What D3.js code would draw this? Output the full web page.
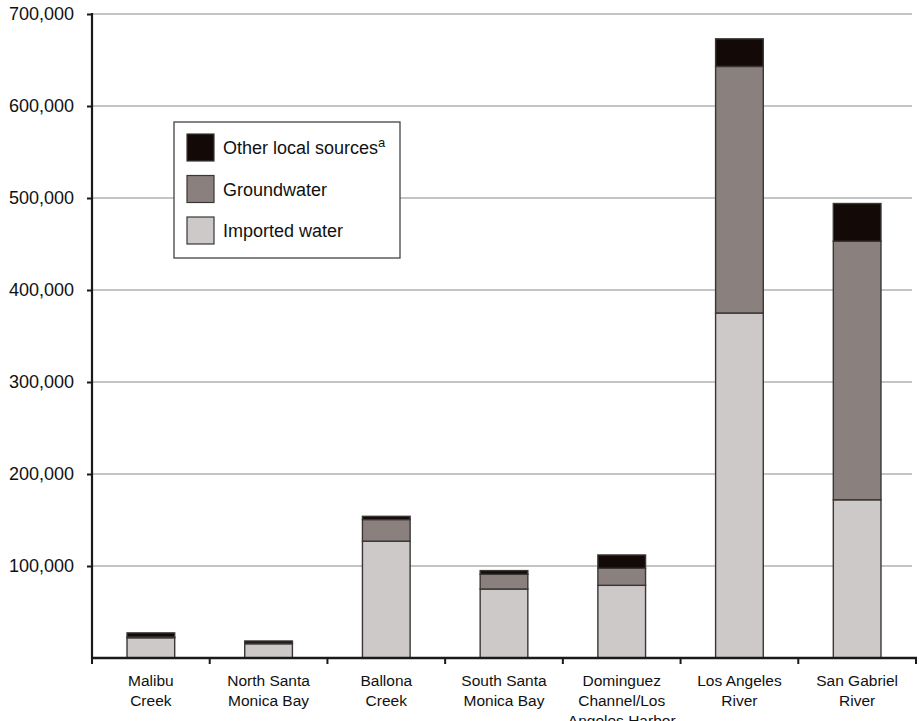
<!doctype html>
<html lang="en">
<head>
    <meta charset="utf-8">
    <title>Water sources by watershed</title>
<style>
body {
margin: 0;
font-family: "Liberation Sans", Arial, Helvetica, sans-serif;
background: #fff;
}
</style>
</head>

<body>
    <div id="chart"></div>
</body>

<script src="https://cdnjs.cloudflare.com/ajax/libs/d3/7.8.5/d3.min.js"></script>
<script>
var watersheds = [
    ["Malibu", "Creek"],
    ["North Santa", "Monica Bay"],
    ["Ballona", "Creek"],
    ["South Santa", "Monica Bay"],
    ["Dominguez", "Channel/Los", "Angeles Harbor"],
    ["Los Angeles", "River"],
    ["San Gabriel", "River"]
];
var imported    = [22000, 15500, 127000, 75000, 79000, 375000, 172000];
var groundwater = [  800,   500,  23500, 16000, 18500, 268000, 281000];
var otherLocal  = [ 4500,  2500,   3500,  4000, 14500,  30000,  41000];
var yTicks = [100000, 200000, 300000, 400000, 500000, 600000, 700000];

var seriesKeys = ["imported", "groundwater", "other"];
var seriesColor = {imported: "#cdc9c8", groundwater: "#8a817e", other: "#130a07"};
var legendItems = [
    {key: "other", label: "Other local sources", sup: "a"},
    {key: "groundwater", label: "Groundwater"},
    {key: "imported", label: "Imported water"}
];

var rows = watersheds.map(function(w, i) {
    return {name: w.join(" "), lines: w, imported: imported[i], groundwater: groundwater[i], other: otherLocal[i]};
});

var width = 919, height = 721;
var margin = {top: 14, right: 3, bottom: 63, left: 92};

var svg = d3.select("#chart").append("svg")
    .attr("width", width)
    .attr("height", height);

var x = d3.scaleBand()
    .domain(rows.map(function(d) { return d.name; }))
    .range([margin.left, width - margin.right])
    .paddingInner(0.595)
    .paddingOuter(0.2975);

var y = d3.scaleLinear()
    .domain([0, 700000])
    .range([height - margin.bottom, margin.top]);

// gridlines
svg.append("g")
    .selectAll("line")
    .data(yTicks)
    .join("line")
    .attr("x1", margin.left)
    .attr("x2", 912)
    .attr("y1", function(d) { return y(d); })
    .attr("y2", function(d) { return y(d); })
    .style("stroke", "#b0b0b0")
    .style("stroke-width", 1.5);

// stacked bars
var stacked = d3.stack().keys(seriesKeys)(rows);

svg.append("g")
    .selectAll("g")
    .data(stacked)
    .join("g")
    .style("fill", function(s) { return seriesColor[s.key]; })
    .selectAll("rect")
    .data(function(s) { return s; })
    .join("rect")
    .attr("x", function(d) { return x(d.data.name); })
    .attr("width", x.bandwidth())
    .attr("y", function(d) { return y(d[1]); })
    .attr("height", function(d) { return y(d[0]) - y(d[1]); })
    .style("stroke", "#3a3636")
    .style("stroke-width", 1.4);

// y axis
var yAxis = svg.append("g")
    .attr("transform", "translate(" + margin.left + ",0)")
    .call(d3.axisLeft(y).tickValues(yTicks).tickSize(5).tickPadding(13)
        .tickFormat(d3.format(",")));
yAxis.select(".domain").remove();
yAxis.selectAll(".tick line").style("stroke", "#1a1a1a").style("stroke-width", 2);
yAxis.selectAll("text")
    .style("font-size", "18px")
    .style("fill", "#111")
    .style("font-family", "'Liberation Sans', Arial, sans-serif");
yAxis.append("line")
    .attr("y1", margin.top - 1)
    .attr("y2", y(0) + 1)
    .style("stroke", "#1a1a1a")
    .style("stroke-width", 2.2);

// x axis with ticks on band boundaries
var xAxis = svg.append("g");
xAxis.append("line")
    .attr("x1", margin.left)
    .attr("x2", width - 2)
    .attr("y1", y(0))
    .attr("y2", y(0))
    .style("stroke", "#1a1a1a")
    .style("stroke-width", 2.4);

var step = x.step();
var bounds = d3.range(rows.length + 1).map(function(i) { return margin.left + i * step * (width - margin.right - margin.left) / (step * rows.length); });
xAxis.selectAll(".xtick")
    .data(bounds)
    .join("line")
    .attr("class", "xtick")
    .attr("x1", function(d) { return d; })
    .attr("x2", function(d) { return d; })
    .attr("y1", y(0))
    .attr("y2", y(0) + 6)
    .style("stroke", "#1a1a1a")
    .style("stroke-width", 2);

xAxis.selectAll(".xlabel")
    .data(rows)
    .join("text")
    .attr("class", "xlabel")
    .attr("text-anchor", "middle")
    .attr("x", function(d) { return x(d.name) + x.bandwidth() / 2; })
    .attr("y", 686)
    .style("font-size", "15.5px")
    .style("fill", "#111")
    .selectAll("tspan")
    .data(function(d) { return d.lines; })
    .join("tspan")
    .attr("x", function() { var p = d3.select(this.parentNode).datum(); return x(p.name) + x.bandwidth() / 2; })
    .attr("dy", function(d, i) { return i === 0 ? 0 : 20; })
    .text(function(d) { return d; });

// legend
var legend = svg.append("g").attr("transform", "translate(174,122)");
legend.append("rect")
    .attr("width", 226)
    .attr("height", 136)
    .style("fill", "#fff")
    .style("stroke", "#444")
    .style("stroke-width", 1.3);

var item = legend.selectAll(".item")
    .data(legendItems)
    .join("g")
    .attr("class", "item")
    .attr("transform", function(d, i) { return "translate(13," + (12 + i * 41.5) + ")"; });

item.append("rect")
    .attr("width", 27)
    .attr("height", 27)
    .style("fill", function(d) { return seriesColor[d.key]; })
    .style("stroke", "#3a3636")
    .style("stroke-width", 1.2);

var label = item.append("text")
    .attr("x", 36)
    .attr("y", 20)
    .style("font-size", "18px")
    .style("fill", "#111");
label.append("tspan").text(function(d) { return d.label; });
label.filter(function(d) { return d.sup; })
    .append("tspan")
    .attr("dy", -7)
    .style("font-size", "13px")
    .text(function(d) { return d.sup; });
</script>
</html>
